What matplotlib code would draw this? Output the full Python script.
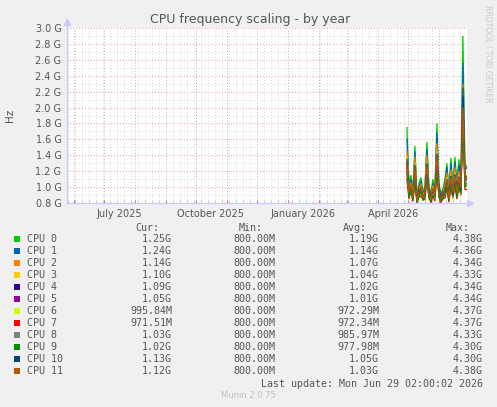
import datetime as dt
import numpy as np
import matplotlib
matplotlib.use("Agg")
import matplotlib.pyplot as plt
import matplotlib.dates as mdates
from matplotlib.patches import Rectangle
from matplotlib.ticker import MultipleLocator, FuncFormatter

# daily-average frequency, GHz, one point every 2 days from 2026-04-30
start_day = dt.datetime(2026, 4, 30)
days = [start_day + dt.timedelta(days=2 * i) for i in range(31)]

cpu0 = [1.75, 1.05, 1.15, 0.95, 1.52, 0.88, 1.05, 1.12, 0.95, 1.00, 1.57, 1.02, 0.92, 1.10, 0.98, 1.80,
        1.05, 0.92, 0.98, 1.10, 1.30, 0.95, 1.37, 1.00, 1.38, 1.05, 1.35, 1.10, 2.90, 1.30, 1.25]
cpu1 = [1.60, 1.00, 1.10, 0.92, 1.45, 0.86, 1.00, 1.08, 0.92, 0.97, 1.48, 0.98, 0.90, 1.05, 0.95, 1.69,
        1.00, 0.90, 0.95, 1.05, 1.25, 0.92, 1.30, 0.98, 1.32, 1.02, 1.28, 1.05, 2.56, 1.22, 1.24]
cpu2 = [1.45, 0.98, 1.05, 0.90, 1.38, 0.85, 0.97, 1.04, 0.90, 0.95, 1.40, 0.95, 0.88, 1.02, 0.93, 1.55,
        0.97, 0.88, 0.93, 1.02, 1.18, 0.90, 1.22, 0.95, 1.25, 0.98, 1.20, 1.02, 2.30, 1.15, 1.14]
cpu3 = [1.38, 0.95, 1.02, 0.88, 1.30, 0.84, 0.95, 1.00, 0.88, 0.93, 1.32, 0.93, 0.86, 0.98, 0.90, 1.45,
        0.95, 0.86, 0.90, 0.98, 1.12, 0.88, 1.15, 0.92, 1.18, 0.95, 1.15, 0.98, 2.20, 1.10, 1.10]
cpu4 = [1.30, 0.96, 0.98, 0.87, 1.25, 0.85, 0.91, 0.98, 0.89, 0.90, 1.28, 0.94, 0.85, 0.93, 0.89, 1.40,
        0.96, 0.85, 0.91, 0.96, 1.08, 0.89, 1.12, 0.88, 1.15, 0.96, 1.12, 0.94, 2.15, 1.08, 1.09]
cpu5 = [1.25, 0.90, 1.00, 0.86, 1.20, 0.82, 0.94, 0.96, 0.84, 0.92, 1.22, 0.88, 0.86, 0.96, 0.86, 1.35,
        0.90, 0.86, 0.86, 0.94, 1.05, 0.84, 1.08, 0.91, 1.10, 0.90, 1.08, 0.96, 2.10, 1.05, 1.05]
cpu6 = [1.15, 0.91, 0.93, 0.84, 1.10, 0.83, 0.86, 0.94, 0.82, 0.90, 1.12, 0.85, 0.84, 0.88, 0.87, 1.22,
        0.86, 0.84, 0.83, 0.92, 1.00, 0.86, 1.02, 0.84, 1.04, 0.91, 1.02, 0.88, 2.00, 1.00, 1.00]
cpu7 = [1.10, 0.85, 0.95, 0.82, 1.08, 0.80, 0.89, 0.88, 0.85, 0.84, 1.10, 0.88, 0.80, 0.90, 0.82, 1.20,
        0.89, 0.80, 0.86, 0.86, 0.98, 0.81, 1.00, 0.87, 1.02, 0.85, 1.00, 0.90, 1.98, 0.97, 0.97]
cpu8 = [1.20, 0.92, 0.95, 0.85, 1.15, 0.82, 0.92, 0.92, 0.86, 0.87, 1.18, 0.90, 0.83, 0.94, 0.85, 1.28,
        0.92, 0.82, 0.88, 0.90, 1.03, 0.86, 1.05, 0.86, 1.08, 0.92, 1.05, 0.90, 2.05, 1.03, 1.03]
cpu9 = [1.18, 0.87, 0.97, 0.83, 1.12, 0.81, 0.87, 0.95, 0.83, 0.90, 1.15, 0.86, 0.82, 0.89, 0.88, 1.25,
        0.87, 0.83, 0.85, 0.93, 1.01, 0.83, 1.03, 0.89, 1.06, 0.87, 1.03, 0.93, 2.02, 1.01, 1.02]
cpu10 = [1.35, 0.97, 1.00, 0.89, 1.28, 0.84, 0.97, 0.98, 0.89, 0.91, 1.30, 0.94, 0.87, 0.96, 0.91, 1.42,
         0.97, 0.86, 0.92, 0.96, 1.10, 0.89, 1.14, 0.90, 1.16, 0.97, 1.13, 0.96, 2.25, 1.10, 1.13]
cpu11 = [1.30, 0.93, 1.03, 0.86, 1.25, 0.83, 0.94, 1.01, 0.86, 0.93, 1.28, 0.90, 0.86, 0.99, 0.88, 1.40,
         0.93, 0.86, 0.88, 0.99, 1.10, 0.86, 1.12, 0.93, 1.15, 0.93, 1.12, 0.99, 2.00, 1.08, 1.12]

series = [cpu0, cpu1, cpu2, cpu3, cpu4, cpu5, cpu6, cpu7, cpu8, cpu9, cpu10, cpu11]
names = ["CPU 0", "CPU 1", "CPU 2", "CPU 3", "CPU 4", "CPU 5",
         "CPU 6", "CPU 7", "CPU 8", "CPU 9", "CPU 10", "CPU 11"]
colors = ["#00CC00", "#0066B3", "#FF8000", "#FFCC00", "#330099", "#990099",
          "#CCFF00", "#FF0000", "#808080", "#008F00", "#00487D", "#B35A00"]

cur = ["1.25G", "1.24G", "1.14G", "1.10G", "1.09G", "1.05G",
       "995.84M", "971.51M", "1.03G", "1.02G", "1.13G", "1.12G"]
mins = ["800.00M"] * 12
avg = ["1.19G", "1.14G", "1.07G", "1.04G", "1.02G", "1.01G",
       "972.29M", "972.34M", "985.97M", "977.98M", "1.05G", "1.03G"]
maxs = ["4.38G", "4.36G", "4.34G", "4.33G", "4.34G", "4.34G",
        "4.37G", "4.37G", "4.33G", "4.30G", "4.30G", "4.38G"]

x_start = dt.datetime(2025, 5, 25)
x_end = dt.datetime(2026, 6, 29, 2)
month_labels = [(dt.datetime(2025, 7, 16), "July 2025"), (dt.datetime(2025, 10, 16), "October 2025"),
                (dt.datetime(2026, 1, 16), "January 2026"), (dt.datetime(2026, 4, 16), "April 2026")]

W, H = 497, 407
bg = "#F0F0F0"
txt = "#555555"
fig = plt.figure(figsize=(W / 100, H / 100), dpi=100, facecolor=bg)

def px(x, y):
    return x / W, 1 - y / H

ax = fig.add_axes([67 / W, 1 - 203 / H, 400 / W, 175 / H], facecolor="white")

for s, c in zip(series, colors):
    ax.plot(days, s, color=c, lw=0.9, solid_joinstyle="miter")

ax.set_xlim(x_start, x_end)
ax.set_ylim(0.8, 3.0)

ax.yaxis.set_major_locator(MultipleLocator(0.2))
ax.yaxis.set_minor_locator(MultipleLocator(0.1))
ax.yaxis.set_major_formatter(FuncFormatter(lambda v, p: f"{v:.1f} G"))
ax.xaxis.set_major_locator(mdates.MonthLocator())
ax.xaxis.set_minor_locator(mdates.WeekdayLocator(byweekday=mdates.MO))
ax.xaxis.set_major_formatter(FuncFormatter(lambda v, p: ""))

ax.grid(which="major", color="#E8A0A0", ls=(0, (1, 2)), lw=0.7)
ax.grid(which="minor", color="#D8D8D8", ls=(0, (1, 2)), lw=0.7)
ax.tick_params(axis="y", which="both", length=0, labelsize=7, labelcolor=txt, pad=4)
ax.tick_params(axis="x", which="major", length=2, color="#E07070", direction="in")
ax.tick_params(axis="x", which="minor", length=2, color="#C0C0C0", direction="in")

for side in ["top", "right"]:
    ax.spines[side].set_visible(False)
for side in ["left", "bottom"]:
    ax.spines[side].set_color("#C8C8FF")
    ax.spines[side].set_linewidth(0.9)
ax.plot([0, 0], [1, 1.035], color="#C8C8FF", lw=0.9, transform=ax.transAxes, clip_on=False)
ax.plot([1, 1.008], [0, 0], color="#C8C8FF", lw=0.9, transform=ax.transAxes, clip_on=False)
ax.plot(0, 1.035, marker="^", ms=4, color="#C8C8FF", transform=ax.transAxes, clip_on=False)
ax.plot(1.008, 0, marker=">", ms=4, color="#C8C8FF", transform=ax.transAxes, clip_on=False)

trans = ax.get_xaxis_transform()
for d, lab in month_labels:
    ax.text(d, -0.035, lab, transform=trans, ha="center", va="top", fontsize=7, color=txt)

fig.text(*px(250, 19), "CPU frequency scaling - by year", ha="center", va="center",
         fontsize=9, color=txt)
fig.text(*px(10, 115), "Hz", rotation=90, ha="center", va="center", fontsize=7.5, color=txt)
fig.text(*px(488, 5), "RRDTOOL / TOBI OETIKER", rotation=270, ha="center", va="top",
         fontsize=5.5, color="#C8C8C8")

mono = dict(family="DejaVu Sans Mono", fontsize=7.2, color=txt, va="center")
fig.text(*px(159, 228), "Cur:", ha="right", **mono)
fig.text(*px(263, 228), "Min:", ha="right", **mono)
fig.text(*px(367, 228), "Avg:", ha="right", **mono)
fig.text(*px(470, 228), "Max:", ha="right", **mono)

for i, (n, c) in enumerate(zip(names, colors)):
    yy = 239 + 12 * i
    x0, y0 = px(14, yy + 3)
    fig.patches.append(Rectangle((x0, y0), 6 / W, 6 / H, transform=fig.transFigure,
                                 facecolor=c, edgecolor="none"))
    fig.text(*px(27, yy), n, ha="left", **mono)
    fig.text(*px(172, yy), cur[i], ha="right", **mono)
    fig.text(*px(275, yy), mins[i], ha="right", **mono)
    fig.text(*px(379, yy), avg[i], ha="right", **mono)
    fig.text(*px(483, yy), maxs[i], ha="right", **mono)

fig.text(*px(483, 384), "Last update: Mon Jun 29 02:00:02 2026", ha="right", **mono)
fig.text(*px(248, 396), "Munin 2.0.75", ha="center", va="center", fontsize=6, color="#C0C0C0")

fig.savefig("out.png", dpi=100, facecolor=bg)
